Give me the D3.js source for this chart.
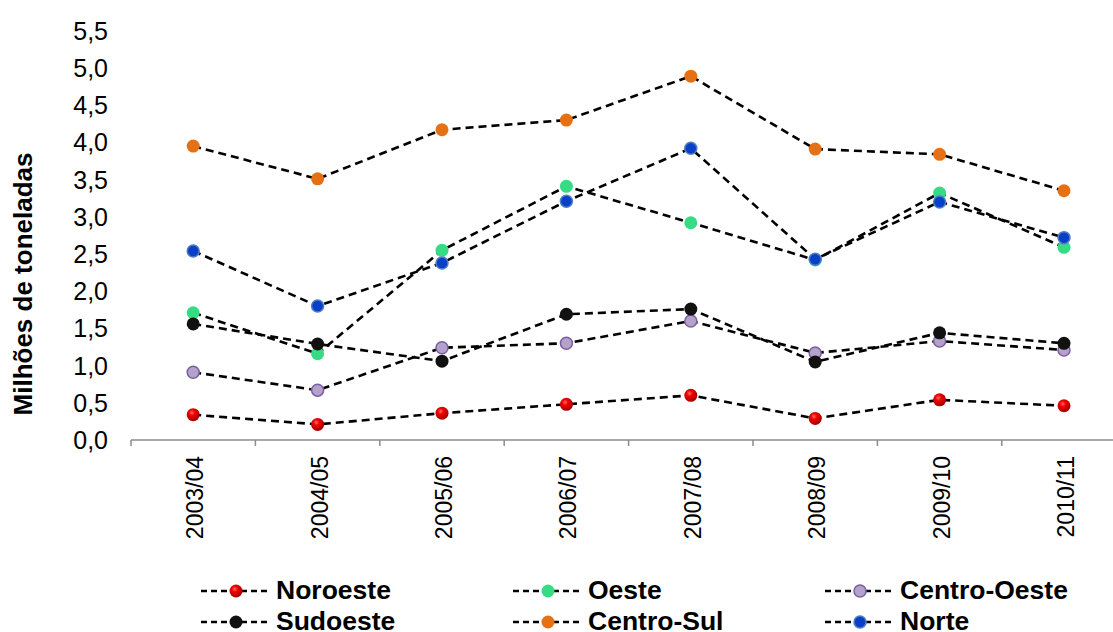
<!DOCTYPE html>
<html>
<head>
<meta charset="utf-8">
<script src="https://cdn.jsdelivr.net/npm/d3@7"></script>
<style>
  html, body { margin: 0; padding: 0; background: #fff; }
  svg { display: block; font-family: "Liberation Sans", Arial, sans-serif; }
</style>
</head>
<body>
<svg id="chart" width="1113" height="632"></svg>
<script>
// Safras (harvest years)
const categories = ["2003/04", "2004/05", "2005/06", "2006/07", "2007/08", "2008/09", "2009/10", "2010/11"];

// Produção por região, milhões de toneladas
const noroeste    = [0.34, 0.21, 0.36, 0.48, 0.60, 0.29, 0.54, 0.46];
const oeste       = [1.71, 1.16, 2.55, 3.41, 2.92, 2.42, 3.32, 2.59];
const centroOeste = [0.91, 0.67, 1.24, 1.30, 1.60, 1.17, 1.33, 1.21];
const sudoeste    = [1.56, 1.29, 1.06, 1.69, 1.76, 1.05, 1.44, 1.30];
const centroSul   = [3.95, 3.51, 4.17, 4.30, 4.89, 3.91, 3.84, 3.35];
const norte       = [2.54, 1.80, 2.38, 3.21, 3.92, 2.43, 3.20, 2.72];

const yTicks = [0, 0.5, 1, 1.5, 2, 2.5, 3, 3.5, 4, 4.5, 5, 5.5];

const series = [
  { name: "Noroeste",     values: noroeste,    fill: "url(#redBall)", stroke: "none" },
  { name: "Oeste",        values: oeste,       fill: "#36dc84",       stroke: "none" },
  { name: "Centro-Oeste", values: centroOeste, fill: "#b4a2cc",       stroke: "#7a5fa0" },
  { name: "Sudoeste",     values: sudoeste,    fill: "#111111",       stroke: "none" },
  { name: "Centro-Sul",   values: centroSul,   fill: "#e67114",       stroke: "none" },
  { name: "Norte",        values: norte,       fill: "#0a3fc8",       stroke: "#4f7ec0" }
];

const svg = d3.select("#chart");

const defs = svg.append("defs");
const grad = defs.append("radialGradient")
  .attr("id", "redBall").attr("cx", "0.4").attr("cy", "0.35").attr("r", "0.65");
grad.append("stop").attr("offset", "0").attr("stop-color", "#ff6a6a");
grad.append("stop").attr("offset", "0.35").attr("stop-color", "#f00000");
grad.append("stop").attr("offset", "1").attr("stop-color", "#a00000");

defs.append("clipPath").attr("id", "plotClip")
  .append("rect").attr("x", 0).attr("y", 0).attr("width", 1113).attr("height", 632);

const x0 = 131, xBand = 124.4;
const x = d3.scaleBand()
  .domain(categories)
  .range([x0, x0 + xBand * categories.length]);

const y = d3.scaleLinear().domain([0, 5.5]).range([440, 440 - 74.4 * 5.5]);

// X axis
const xAxis = svg.append("g").attr("clip-path", "url(#plotClip)");
xAxis.append("line")
  .attr("x1", x.range()[0]).attr("x2", x.range()[1])
  .attr("y1", y(0)).attr("y2", y(0))
  .attr("stroke", "#8c8c8c").attr("stroke-width", 1.5);
const tickPos = d3.range(categories.length + 1).map(i => x.range()[0] + i * x.bandwidth());
xAxis.selectAll("line.tick").data(tickPos).join("line")
  .attr("class", "tick")
  .attr("x1", d => d).attr("x2", d => d)
  .attr("y1", y(0)).attr("y2", y(0) + 6)
  .attr("stroke", "#8c8c8c").attr("stroke-width", 1.5);

svg.append("g").selectAll("text").data(categories).join("text")
  .attr("transform", d => `translate(${x(d) + x.bandwidth() / 2 + 10},${y(0) + 16}) rotate(-90)`)
  .attr("text-anchor", "end")
  .attr("font-size", 23)
  .attr("fill", "#000")
  .text(d => d);

// Y axis labels
svg.append("g").selectAll("text").data(yTicks).join("text")
  .attr("x", 108)
  .attr("y", d => y(d) + 9)
  .attr("text-anchor", "end")
  .attr("font-size", 25)
  .attr("fill", "#000")
  .text(d => d3.format(".1f")(d).replace(".", ","));

svg.append("text")
  .attr("transform", `translate(32,284) rotate(-90)`)
  .attr("text-anchor", "middle")
  .attr("font-size", 26)
  .attr("font-weight", "bold")
  .attr("fill", "#000")
  .text("Milhões de toneladas");

// Lines
const line = d3.line()
  .x((d, i) => x(categories[i]) + x.bandwidth() / 2)
  .y(d => y(d));

const plot = svg.append("g");
plot.selectAll("path.series").data(series).join("path")
  .attr("class", "series")
  .attr("d", s => line(s.values))
  .attr("fill", "none")
  .attr("stroke", "#000")
  .attr("stroke-width", 2.6)
  .attr("stroke-dasharray", "8,5");

// Markers
series.forEach(s => {
  plot.append("g").selectAll("circle").data(s.values).join("circle")
    .attr("cx", (d, i) => x(categories[i]) + x.bandwidth() / 2)
    .attr("cy", d => y(d))
    .attr("r", s.stroke === "none" ? 6.5 : 6)
    .attr("fill", s.fill)
    .attr("stroke", s.stroke)
    .attr("stroke-width", s.stroke === "none" ? 0 : 1.5);
});

// Legend
const legendCols = [201, 513, 825];
const legendRows = [591, 622];
const legend = svg.append("g");
series.forEach((s, i) => {
  const lx = legendCols[i % 3];
  const ly = legendRows[Math.floor(i / 3)];
  const g = legend.append("g").attr("transform", `translate(${lx},${ly})`);
  g.append("line")
    .attr("x1", 0).attr("x2", 70).attr("y1", 0).attr("y2", 0)
    .attr("stroke", "#000").attr("stroke-width", 2.6)
    .attr("stroke-dasharray", "6,4");
  g.append("circle")
    .attr("cx", 35).attr("cy", 0)
    .attr("r", s.stroke === "none" ? 6.5 : 6)
    .attr("fill", s.fill)
    .attr("stroke", s.stroke)
    .attr("stroke-width", s.stroke === "none" ? 0 : 1.5);
  g.append("text")
    .attr("x", 75).attr("y", 8)
    .attr("font-size", 26.5)
    .attr("font-weight", "bold")
    .attr("fill", "#000")
    .text(s.name);
});
</script>
</body>
</html>
